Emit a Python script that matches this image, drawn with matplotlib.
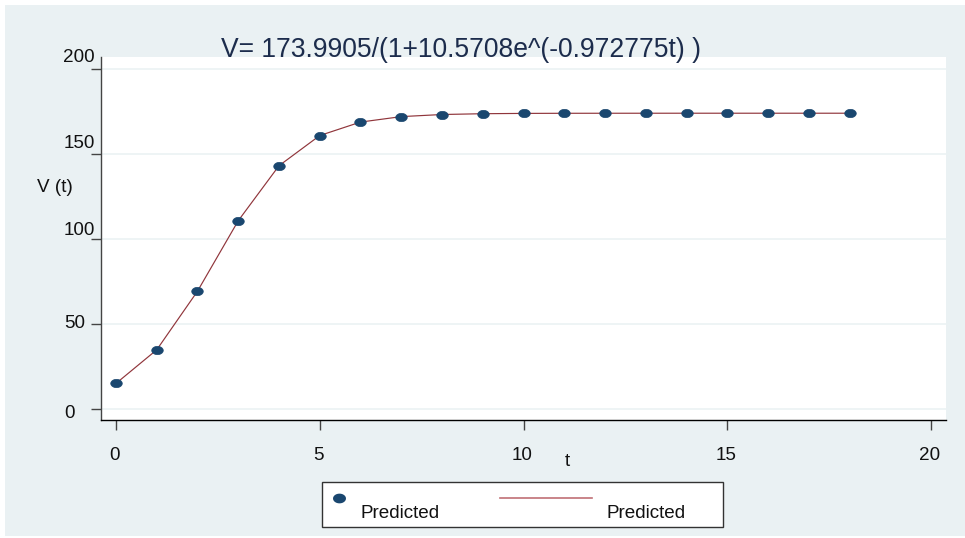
import numpy as np
import matplotlib
matplotlib.use("Agg")
import matplotlib.pyplot as plt
from matplotlib.path import Path
from matplotlib.patches import Rectangle
from matplotlib.lines import Line2D
import matplotlib.transforms as mtrans

plt.rcParams['font.family'] = ['Liberation Sans', 'DejaVu Sans']

# ---- data ----
t_values = [0, 1, 2, 3, 4, 5, 6, 7, 8, 9, 10, 11, 12, 13, 14, 15, 16, 17, 18]
v_values = [15.04, 34.83, 69.30, 110.75, 143.10, 160.86, 168.78, 171.99, 173.23,
            173.70, 173.88, 173.95, 173.97, 173.98, 173.99, 173.99, 173.99, 173.99, 173.99]
x_ticks = [0, 5, 10, 15, 20]
y_ticks = [0, 50, 100, 150, 200]
title = "V= 173.9905/(1+10.5708e^(-0.972775t) )"
x_label = "t"
y_label = "V (t)"
legend_labels = ["Predicted", "Predicted"]

# ---- style ----
W, H = 965, 538
BG = "#EAF1F3"
NAVY = "#1A476F"
MAROON = "#90353B"
GRID = "#EDF3F4"

fig = plt.figure(figsize=(W / 100, H / 100), dpi=100)
fig.patch.set_facecolor("white")

def fx(px):
    return px / W

def fy(py):
    return 1 - py / H

# outer graph region
fig.patches.append(Rectangle((fx(5), fy(536)), fx(965) - fx(5), fy(5) - fy(536),
                             transform=fig.transFigure, facecolor=BG, edgecolor="none", zorder=-10))

ax = fig.add_axes([fx(101), fy(420), fx(946) - fx(101), fy(57) - fy(420)])
ax.set_zorder(1)
ax.set_facecolor("white")
ax.set_xlim(-0.368, 20.368)
ax.set_ylim(-6.47, 207.06)

for s in ["top", "right"]:
    ax.spines[s].set_visible(False)
ax.spines["left"].set_color("#444444")
ax.spines["left"].set_linewidth(1.0)
ax.spines["bottom"].set_color("black")
ax.spines["bottom"].set_linewidth(1.0)

ax.set_xticks(x_ticks)
ax.set_yticks(y_ticks)
ax.set_xticklabels([])
ax.set_yticklabels([])
ax.tick_params(axis="both", direction="out", length=7.5, width=1.0, color="#444444")

for yv in y_ticks:
    ax.axhline(yv, color=GRID, linewidth=1.3, zorder=0.5)

# ellipse marker
theta = np.linspace(0, 2 * np.pi, 60)
ell = Path(np.column_stack([np.cos(theta), 0.72 * np.sin(theta)]), closed=True)

ax.plot(t_values, v_values, color=MAROON, linewidth=0.85, zorder=2)
ax.plot(t_values, v_values, linestyle="none", marker=ell, markersize=8.3,
        markerfacecolor=NAVY, markeredgecolor=NAVY, markeredgewidth=0.5, zorder=3)

fs = 13.6
# y tick labels (Stata-like placement)
y_offsets = [(-26, -4), (-16, 1), (-6, 9), (-6, 11), (-6, 12)]
for yv, (dx, dy) in zip(y_ticks, y_offsets):
    tr = mtrans.offset_copy(ax.get_yaxis_transform(), fig=fig, x=dx * 0.72, y=dy * 0.72, units="points")
    ax.text(0, yv, str(yv), transform=tr, ha="right", va="center", fontsize=fs, color="#111111",
            clip_on=False)

# x tick labels
for xv in x_ticks:
    tr = mtrans.offset_copy(ax.get_xaxis_transform(), fig=fig, x=-1.5 * 0.72, y=-35 * 0.72, units="points")
    ax.text(xv, 0, str(xv), transform=tr, ha="center", va="center", fontsize=fs, color="#111111",
            clip_on=False)

fig.text(fx(567), fy(462), x_label, ha="center", va="center", fontsize=fs, color="#111111")
fig.text(fx(55), fy(187), y_label, ha="center", va="center", fontsize=fs, color="#111111")
fig.text(fx(461), fy(50), title, ha="center", va="center", fontsize=19.1, color="#1C2C4C", zorder=5)

# legend
fig.patches.append(Rectangle((fx(322), fy(527)), fx(723) - fx(322), fy(482) - fy(527),
                             transform=fig.transFigure, facecolor="white", edgecolor="#333333",
                             linewidth=1.0, zorder=5))
fig.lines.append(Line2D([fx(339)], [fy(498)], transform=fig.transFigure, linestyle="none",
                        marker=ell, markersize=8.3, markerfacecolor=NAVY, markeredgecolor=NAVY, zorder=6))
fig.lines.append(Line2D([fx(500), fx(592)], [fy(498), fy(498)], transform=fig.transFigure,
                        color="#C07075", linewidth=1.2, zorder=6))
fig.text(fx(360), fy(513), legend_labels[0], ha="left", va="center", fontsize=fs, color="#111111", zorder=7)
fig.text(fx(607), fy(513), legend_labels[1], ha="left", va="center", fontsize=fs, color="#111111", zorder=7)

fig.savefig("out.png", dpi=100, facecolor=fig.get_facecolor())
